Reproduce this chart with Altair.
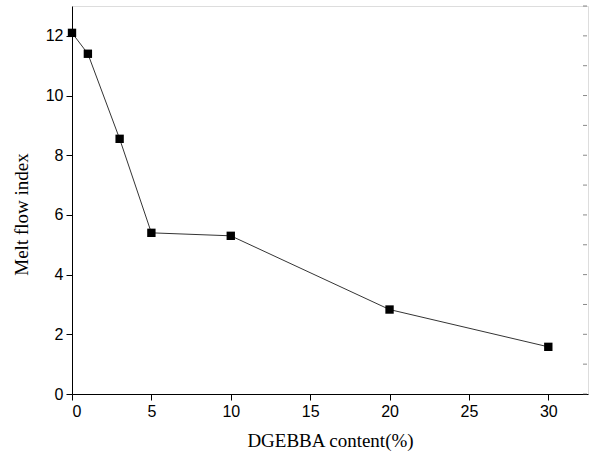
import altair as alt
import pandas as pd

content = [0, 1, 3, 5, 10, 20, 30]
mfi = [12.1, 11.4, 8.55, 5.4, 5.3, 2.83, 1.58]
right_ticks = list(range(0, 14))

df = pd.DataFrame({"content": content, "mfi": mfi})
df_rt = pd.DataFrame({"v": right_ticks})

xscale = alt.Scale(domain=[0, 32.5], nice=False, zero=False)
yscale = alt.Scale(domain=[0, 13], nice=False, zero=False)

x_ticks = [i * 2.5 for i in range(14)]
y_ticks = list(range(0, 14))

W, H = 516, 388

xaxis = alt.Axis(
    values=x_ticks,
    labelExpr="datum.value % 5 === 0 ? datum.label : ''",
    tickSize={"condition": {"test": "datum.value % 5 !== 0", "value": 4}, "value": 6},
    tickColor="black", domainColor="black", grid=False,
    labelFont="Liberation Sans", labelFontSize=16, labelColor="black", labelPadding=3,
    title="DGEBBA content(%)", titleFont="Liberation Serif", titleFontSize=19,
    titleFontWeight="normal", titleColor="black", titlePadding=12,
)
yaxis = alt.Axis(
    values=y_ticks,
    labelExpr="datum.value % 2 === 0 ? datum.label : ''",
    tickSize={"condition": {"test": "datum.value % 2 !== 0", "value": 4}, "value": 6},
    tickColor="black", domainColor="black", grid=False,
    labelFont="Liberation Sans", labelFontSize=16, labelColor="black", labelPadding=3,
    title="Melt flow index", titleFont="Liberation Serif", titleFontSize=19,
    titleFontWeight="normal", titleColor="black", titlePadding=14, titleY=208,
)

line = alt.Chart(df).mark_line(color="black", strokeWidth=0.8).encode(
    x=alt.X("content:Q", scale=xscale, axis=xaxis),
    y=alt.Y("mfi:Q", scale=yscale, axis=yaxis),
)
pts = alt.Chart(df).mark_point(shape="square", filled=True, color="black", size=70, opacity=1).encode(
    x=alt.X("content:Q", scale=xscale),
    y=alt.Y("mfi:Q", scale=yscale),
)
rt = alt.Chart(df_rt).mark_tick(orient="horizontal", color="#555", thickness=1, size=4).encode(
    y=alt.Y("v:Q", scale=yscale),
    x=alt.value(W - 3),
)

chart = alt.layer(line, pts, rt).properties(
    width=W, height=H,
    autosize=alt.AutoSizeParams(type="none"),
    padding={"left": 72, "top": 6, "right": 4, "bottom": 65},
).configure_view(stroke="#444", strokeWidth=2).configure(background="white")

chart.save("out.html", embed_options={"renderer": "svg", "actions": False})
